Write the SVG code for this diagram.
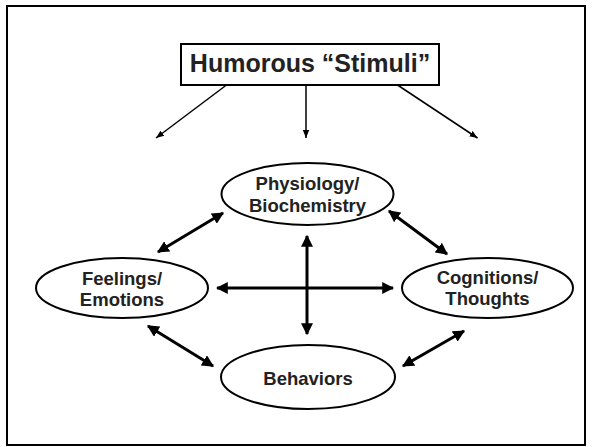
<svg xmlns="http://www.w3.org/2000/svg" width="592" height="447" viewBox="0 0 592 447">
<style>
text{font-family:"Liberation Sans","DejaVu Sans",sans-serif;font-weight:bold;fill:#222;text-anchor:middle}
.n{font-size:18.5px}
.node ellipse{fill:#fff;stroke:#000;stroke-width:2}
.thin{stroke:#000;stroke-width:1.5;fill:none}
.thick{stroke:#000;stroke-width:3;fill:none}
</style>
<defs>
<marker id="ah" viewBox="0 0 10 10" refX="10" refY="5" markerWidth="8" markerHeight="8" markerUnits="userSpaceOnUse" orient="auto"><path d="M0,1 L10,5 L0,9 z" fill="#000"/></marker>
<marker id="bh" viewBox="0 0 10 10" refX="9" refY="5" markerWidth="4" markerHeight="4" orient="auto-start-reverse"><path d="M0,0 L10,5 L0,10 z" fill="#000"/></marker>
</defs>
<rect x="7" y="6" width="578" height="439" fill="#fff" stroke="#000" stroke-width="2"/>
<g id="stimuli" class="node">
<rect x="181" y="44" width="258" height="41" fill="#fff" stroke="#000" stroke-width="2"/>
<text x="310" y="72" style="font-size:25px">Humorous “Stimuli”</text>
</g>
<g id="physiology" class="node">
<ellipse cx="307.5" cy="194" rx="86" ry="31"/>
<text class="n" x="307.5" y="190">Physiology/</text>
<text class="n" x="307.5" y="212">Biochemistry</text>
</g>
<g id="feelings" class="node">
<ellipse cx="122" cy="288" rx="86" ry="30"/>
<text class="n" x="122" y="285">Feelings/</text>
<text class="n" x="122" y="306">Emotions</text>
</g>
<g id="cognitions" class="node">
<ellipse cx="487.5" cy="288" rx="85.5" ry="30"/>
<text class="n" x="487.5" y="284">Cognitions/</text>
<text class="n" x="487.5" y="305">Thoughts</text>
</g>
<g id="behaviors" class="node">
<ellipse cx="308" cy="377" rx="87" ry="32"/>
<text class="n" x="308" y="385">Behaviors</text>
</g>
<g id="connectors">
<line class="thin" x1="226.5" y1="85" x2="156" y2="138" marker-end="url(#ah)"/>
<line class="thin" x1="306" y1="85" x2="306" y2="138" marker-end="url(#ah)"/>
<line class="thin" x1="397.5" y1="85" x2="477.5" y2="138" marker-end="url(#ah)"/>
<line class="thick" x1="158" y1="252" x2="223" y2="213" marker-start="url(#bh)" marker-end="url(#bh)"/>
<line class="thick" x1="389" y1="211" x2="447" y2="254" marker-start="url(#bh)" marker-end="url(#bh)"/>
<line class="thick" x1="148" y1="326" x2="213" y2="366" marker-start="url(#bh)" marker-end="url(#bh)"/>
<line class="thick" x1="403" y1="366" x2="464" y2="331" marker-start="url(#bh)" marker-end="url(#bh)"/>
<line class="thick" x1="217" y1="288" x2="393" y2="288" marker-start="url(#bh)" marker-end="url(#bh)"/>
<line class="thick" x1="307" y1="236" x2="307" y2="334" marker-start="url(#bh)" marker-end="url(#bh)"/>
</g>
</svg>
